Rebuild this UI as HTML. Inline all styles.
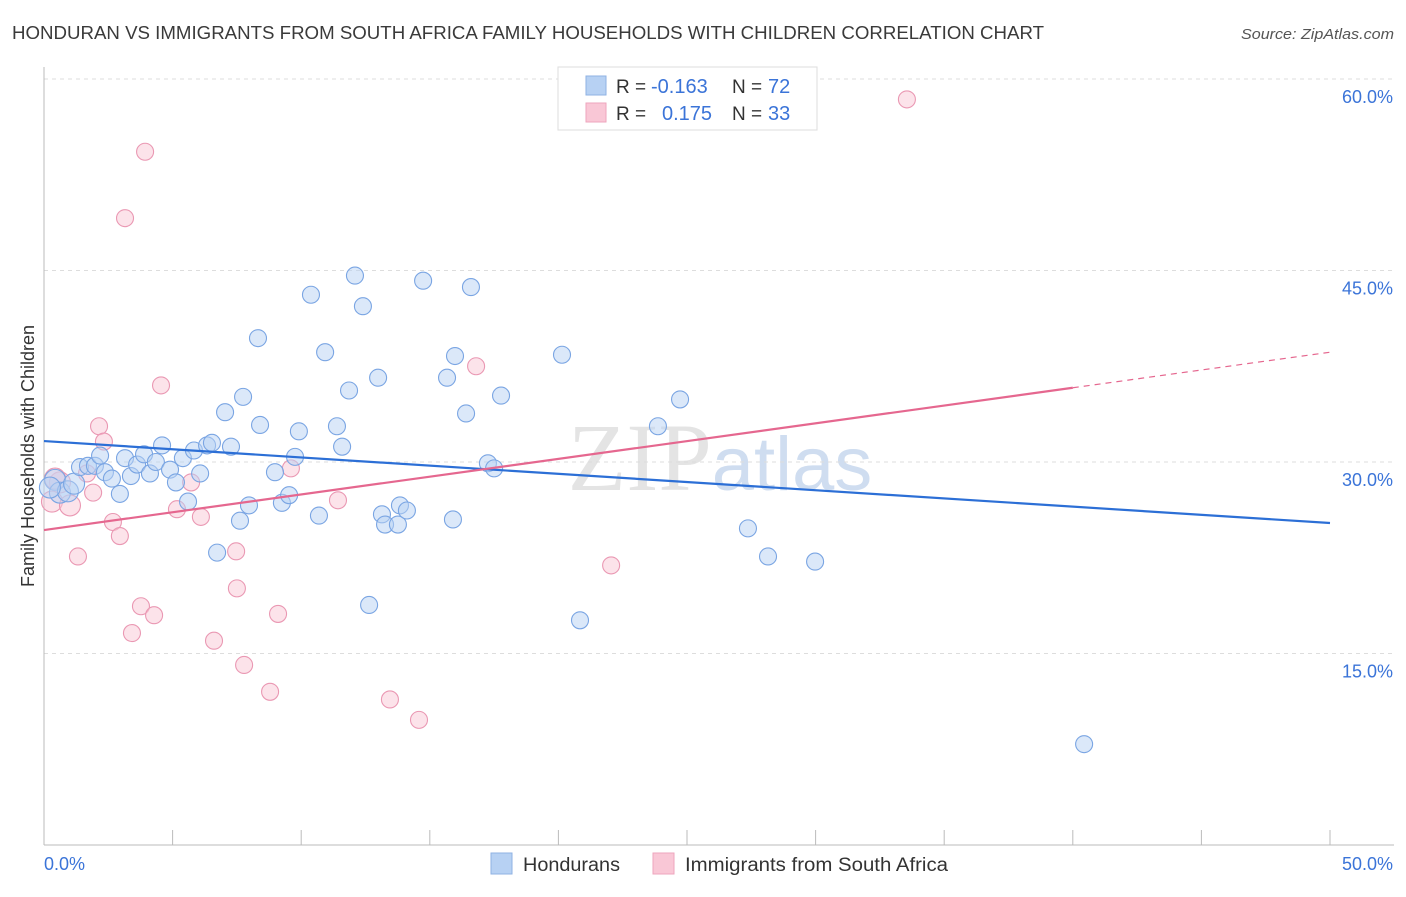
<!DOCTYPE html>
<html><head><meta charset="utf-8"><style>
body{margin:0;background:#fff;font-family:"Liberation Sans",sans-serif}
svg text{font-family:"Liberation Sans",sans-serif}
</style></head><body>
<svg id="chart" width="1406" height="892" xmlns="http://www.w3.org/2000/svg">
<text x="12" y="39" font-size="18" fill="#3a3a3a" textLength="1032" lengthAdjust="spacingAndGlyphs">HONDURAN VS IMMIGRANTS FROM SOUTH AFRICA FAMILY HOUSEHOLDS WITH CHILDREN CORRELATION CHART</text>
<text x="1241" y="39" font-size="15" fill="#555" font-style="italic" textLength="153" lengthAdjust="spacingAndGlyphs">Source: ZipAtlas.com</text>
<text x="720" y="490" font-size="96" text-anchor="middle" fill="#e4e4e4" font-family="Liberation Serif"><tspan font-family="Liberation Serif">ZIP</tspan><tspan font-family="Liberation Sans" font-size="76" fill="#cfddf0">atlas</tspan></text>
<g id="grid"></g><g id="axes"></g><g id="marks"></g>
<text transform="translate(34,456) rotate(-90)" font-size="18" fill="#333" text-anchor="middle">Family Households with Children</text>
<g>
<rect x="558" y="67" width="259" height="63" fill="#fff" stroke="#ddd"/>
<rect x="586" y="76" width="20" height="19" fill="#b7d1f3" stroke="#8fb2e3"/>
<rect x="586" y="103" width="20" height="19" fill="#f9c7d6" stroke="#eea6bd"/>
<text x="616" y="93" font-size="19" fill="#333">R =</text>
<text x="651" y="93" font-size="20" fill="#3b74d8">-0.163</text>
<text x="732" y="93" font-size="19" fill="#333">N =</text>
<text x="768" y="93" font-size="20" fill="#3b74d8">72</text>
<text x="616" y="120" font-size="19" fill="#333">R =</text>
<text x="662" y="120" font-size="20" fill="#3b74d8">0.175</text>
<text x="732" y="120" font-size="19" fill="#333">N =</text>
<text x="768" y="120" font-size="20" fill="#3b74d8">33</text>
</g>
<g>
<rect x="491" y="853" width="21" height="21" fill="#b7d1f3" stroke="#8fb2e3"/>
<text x="523" y="871" font-size="19" fill="#333" textLength="97" lengthAdjust="spacingAndGlyphs">Hondurans</text>
<rect x="653" y="853" width="21" height="21" fill="#f9c7d6" stroke="#eea6bd"/>
<text x="685" y="871" font-size="19" fill="#333" textLength="263" lengthAdjust="spacingAndGlyphs">Immigrants from South Africa</text>
</g>
</svg>
<script>
const blueX=[0.43,0.62,0.93,1.17,1.40,1.71,1.98,2.18,2.37,2.64,2.95,3.15,3.38,3.62,3.89,4.12,4.35,4.59,4.90,5.13,5.40,5.60,5.83,6.07,6.34,6.53,6.73,7.04,7.27,7.62,7.74,7.97,8.32,8.40,8.98,9.25,9.53,9.76,9.91,10.38,10.69,10.93,11.39,11.59,11.86,12.09,12.40,12.64,12.99,13.14,13.26,13.76,13.84,14.11,14.74,15.67,15.90,15.98,16.41,16.60,17.26,17.50,17.77,20.14,20.84,23.87,24.73,27.37,28.15,29.98,40.44,0.23];
const blueY=[28.6,27.6,27.7,28.3,29.6,29.7,29.7,30.5,29.2,28.7,27.5,30.3,28.9,29.8,30.6,29.1,30.0,31.3,29.4,28.4,30.3,26.9,30.9,29.1,31.3,31.5,22.9,33.9,31.2,25.4,35.1,26.6,39.7,32.9,29.2,26.8,27.4,30.4,32.4,43.1,25.8,38.6,32.8,31.2,35.6,44.6,42.2,18.8,36.6,25.9,25.1,25.1,26.6,26.2,44.2,36.6,25.5,38.3,33.8,43.7,29.9,29.5,35.2,38.4,17.6,32.8,34.9,24.8,22.6,22.2,7.9,28.0];
const pinkX=[0.31,0.62,1.01,1.32,1.67,1.91,2.14,2.33,2.68,2.95,3.15,3.42,3.77,3.93,4.28,4.55,5.17,5.72,6.10,6.61,7.47,7.50,7.78,8.79,9.10,9.60,11.43,13.45,14.58,16.80,22.05,33.55,0.43];
const pinkY=[26.9,28.4,26.6,22.6,29.1,27.6,32.8,31.6,25.3,24.2,49.1,16.6,18.7,54.3,18.0,36.0,26.3,28.4,25.7,16.0,23.0,20.1,14.1,12.0,18.1,29.5,27.0,11.4,9.8,37.5,21.9,58.4,28.7];
const blueTrend=[31.64,25.22];
const pinkTrend=[24.67,38.6];
const pinkSolidEnd=40;
const xTickLabels=["0.0%","50.0%"];
const yTicks=[15,30,45,60];
const NS="http://www.w3.org/2000/svg";
const X=v=>44+v*25.72, Y=v=>845-v*12.767;
function mk(tag,attrs,parent){const e=document.createElementNS(NS,tag);for(const k in attrs)e.setAttribute(k,attrs[k]);document.getElementById(parent).appendChild(e);return e;}
yTicks.forEach(t=>{
 const g=mk('line',{x1:44,x2:1394,y1:Y(t),y2:Y(t),stroke:'#ddd','stroke-dasharray':'4,4'},'grid');
 
 
 const l=mk('text',{x:1393,y:Y(t)+24,'font-size':18,fill:'#3b74d8','text-anchor':'end'},'grid');
 l.textContent=t.toFixed(1)+'%';
 
 
});
const ax=mk('line',{x1:44,x2:1394,y1:845,y2:845,stroke:'#bbb'},'axes');


const ay=mk('line',{x1:44,x2:44,y1:67,y2:845,stroke:'#bbb'},'axes');


for(let i=0;i<=10;i++){const t=mk('line',{x1:X(i*5),x2:X(i*5),y1:830,y2:845,stroke:'#bbb'},'axes');
 
 }
[[0,'start'],[50,'end']].forEach((p,i)=>{const t=mk('text',{x:p[0]?1393:44,y:870,'font-size':18,fill:'#3b74d8','text-anchor':p[1]},'axes');t.textContent=xTickLabels[i];
 
 });
function pts(xs,ys,fill,stroke,name){xs.forEach((x,i)=>{const c=mk('circle',{cx:X(x),cy:Y(ys[i]),r:x<1.2?10.5:8.5,fill:fill,'fill-opacity':0.5,stroke:stroke,'stroke-width':1.1},'marks');
 
 });}
pts(pinkX,pinkY,'#f9c7d6','#ea98b3','point-south-africa');
pts(blueX,blueY,'#b7d1f3','#7aa5e3','point-honduran');
const bl=mk('line',{x1:X(0),y1:Y(blueTrend[0]),x2:X(50),y2:Y(blueTrend[1]),stroke:'#2c6fd6','stroke-width':2.2},'marks');


const pf=v=>pinkTrend[0]+(pinkTrend[1]-pinkTrend[0])*v/50;
const pl=mk('line',{x1:X(0),y1:Y(pf(0)),x2:X(pinkSolidEnd),y2:Y(pf(pinkSolidEnd)),stroke:'#e5678f','stroke-width':2.2},'marks');


const pd=mk('line',{x1:X(pinkSolidEnd),y1:Y(pf(pinkSolidEnd)),x2:X(50),y2:Y(pf(50)),stroke:'#e5678f','stroke-width':1.2,'stroke-dasharray':'6,5'},'marks');


</script>
</body></html>
